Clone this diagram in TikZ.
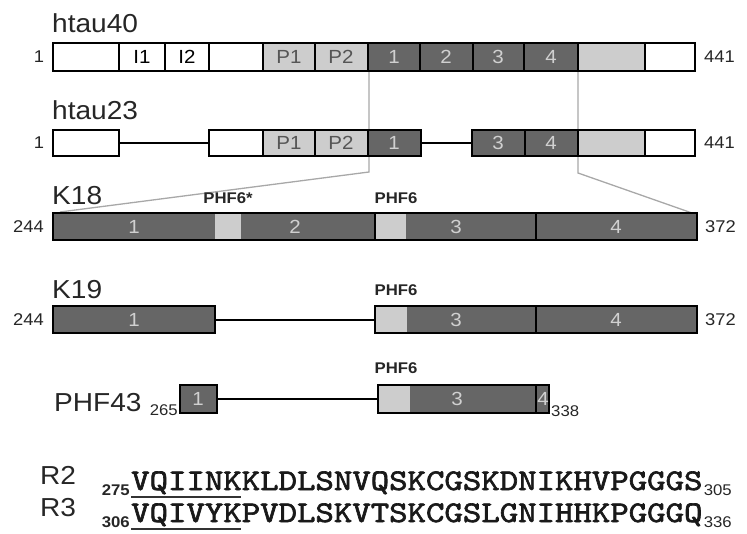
\documentclass[tikz,border=0pt]{standalone}
\usepackage{fontspec}
\setmainfont{Liberation Sans}[FakeStretch=1.08]
\newfontfamily\seqfont{lmmono10-regular.otf}[FakeStretch=1.17,FakeBold=2.2]
\definecolor{dkg}{HTML}{666666}
\definecolor{ltg}{HTML}{CDCDCD}
\definecolor{txt}{HTML}{262626}
\definecolor{dtx}{HTML}{D0D0D0}
\definecolor{ltx}{HTML}{555555}
\definecolor{gdl}{HTML}{A8A8A8}
\tikzset{
 bar/.style={draw=black, line width=1.8pt},
 link/.style={draw=black, line width=1.6pt},
 guide/.style={draw=gdl, line width=1.3pt},
 protname/.style={font=\fontsize{26}{26}\selectfont, text=txt, inner sep=0pt, anchor=base west},
 posnum/.style={font=\fontsize{17}{17}\selectfont, text=txt, inner sep=0pt},
 subnum/.style={font=\fontsize{15.5}{15.5}\selectfont, text=txt, inner sep=0pt},
 phf/.style={font=\bfseries\fontsize{15.5}{15.5}\selectfont, text=txt, inner sep=0pt},
 dlab/.style={font=\fontsize{19}{19}\selectfont, text=dtx, inner sep=0pt},
 llab/.style={font=\fontsize{19}{19}\selectfont, text=ltx, inner sep=0pt},
 wlab/.style={font=\fontsize{19}{19}\selectfont, text=black, inner sep=0pt},
 seqtext/.style={font=\seqfont\fontsize{30}{30}\selectfont, text=black!90, inner sep=0pt, anchor=base west},
 uline/.style={line width=2.5pt, draw=black!80}
}
\begin{document}
\begin{tikzpicture}[x=1pt,y=-1pt]
\useasboundingbox (0,0) rectangle (747,534);
% ---------- guide lines (behind) ----------
\coordinate (ga) at (369,71);
\coordinate (gb) at (369,172);
\coordinate (gc) at (60,212);
\coordinate (gd) at (578,71);
\coordinate (ge) at (578,173);
\coordinate (gf) at (692,213);
\draw[guide] (ga) -- (gb) -- (gc);
\draw[guide] (gd) -- (ge) -- (gf);
% ---------- htau40 ----------
\node[protname] (n40) at (52,33) {htau40};
\fill[white] (53,43) rectangle (263,71);
\fill[ltg] (263,43) rectangle (368,71);
\fill[dkg] (368,43) rectangle (578,71);
\fill[ltg] (578,43) rectangle (645,71);
\fill[white] (645,43) rectangle (695,71);
\foreach \xx in {119,165,209,263,315,368,420,473,524,578,645}
  \draw[bar] (\xx,43) -- (\xx,71);
\draw[bar] (53,43) rectangle (695,71);
\node[posnum] (s40) at (39,57) {1};
\node[posnum, anchor=west] (e40) at (704,57) {441};
\node[wlab] (i1) at (142,57) {I1};
\node[wlab] (i2) at (187,57) {I2};
\node[llab] (p1a) at (289,57) {P1};
\node[llab] (p2a) at (341,57) {P2};
\node[dlab] (r1a) at (394,57) {1};
\node[dlab] (r2a) at (446,57) {2};
\node[dlab] (r3a) at (498,57) {3};
\node[dlab] (r4a) at (551,57) {4};
% ---------- htau23 ----------
\node[protname] (n23) at (52,120) {htau23};
\fill[white] (53,130) rectangle (119,156);
\draw[bar] (53,130) rectangle (119,156);
\fill[white] (209,130) rectangle (263,156);
\fill[ltg] (263,130) rectangle (368,156);
\fill[dkg] (368,130) rectangle (421,156);
\foreach \xx in {263,315,368}
  \draw[bar] (\xx,130) -- (\xx,156);
\draw[bar] (209,130) rectangle (421,156);
\fill[dkg] (472,130) rectangle (578,156);
\fill[ltg] (578,130) rectangle (645,156);
\fill[white] (645,130) rectangle (695,156);
\foreach \xx in {525,578,645}
  \draw[bar] (\xx,130) -- (\xx,156);
\draw[bar] (472,130) rectangle (695,156);
\coordinate (l23a) at (119,143);
\coordinate (l23b) at (209,143);
\coordinate (l23c) at (421,143);
\coordinate (l23d) at (472,143);
\draw[link] (l23a) -- (l23b);
\draw[link] (l23c) -- (l23d);
\node[posnum] (s23) at (39,143) {1};
\node[posnum, anchor=west] (e23) at (704,143) {441};
\node[llab] (p1b) at (289,143) {P1};
\node[llab] (p2b) at (341,143) {P2};
\node[dlab] (r1b) at (394,143) {1};
\node[dlab] (r3b) at (498,143) {3};
\node[dlab] (r4b) at (551,143) {4};
% ---------- K18 ----------
\node[protname] (nk18) at (52,205) {K18};
\node[phf] (phfs) at (228,198) {PHF6*};
\node[phf] (phf18) at (396,198) {PHF6};
\fill[dkg] (53,213) rectangle (697,240);
\fill[ltg] (215,213) rectangle (241,240);
\fill[ltg] (375,213) rectangle (406,240);
\foreach \xx in {375,536}
  \draw[bar] (\xx,213) -- (\xx,240);
\draw[bar] (53,213) rectangle (697,240);
\node[posnum, anchor=east] (s18) at (44,227) {244};
\node[posnum, anchor=west] (e18) at (705,227) {372};
\node[dlab] (k18r1) at (134,227) {1};
\node[dlab] (k18r2) at (295,227) {2};
\node[dlab] (k18r3) at (456,227) {3};
\node[dlab] (k18r4) at (616,227) {4};
% ---------- K19 ----------
\node[protname] (nk19) at (52,299) {K19};
\node[phf] (phf19) at (396,290) {PHF6};
\fill[dkg] (53,306) rectangle (215,333);
\draw[bar] (53,306) rectangle (215,333);
\fill[dkg] (375,306) rectangle (697,333);
\fill[ltg] (375,306) rectangle (407,333);
\draw[bar] (536,306) -- (536,333);
\draw[bar] (375,306) rectangle (697,333);
\coordinate (l19a) at (215,320);
\coordinate (l19b) at (375,320);
\draw[link] (l19a) -- (l19b);
\node[posnum, anchor=east] (s19) at (44,320) {244};
\node[posnum, anchor=west] (e19) at (705,320) {372};
\node[dlab] (k19r1) at (134,320) {1};
\node[dlab] (k19r3) at (456,320) {3};
\node[dlab] (k19r4) at (616,320) {4};
% ---------- PHF43 ----------
\node[protname] (n43) at (54,412) {PHF43};
\node[phf] (phf43) at (396,368) {PHF6};
\fill[dkg] (180,385) rectangle (217,413);
\draw[bar] (180,385) rectangle (217,413);
\fill[dkg] (378,385) rectangle (549,413);
\fill[ltg] (378,385) rectangle (410,413);
\draw[bar] (536,385) -- (536,413);
\draw[bar] (378,385) rectangle (549,413);
\coordinate (l43a) at (217,399);
\coordinate (l43b) at (378,399);
\draw[link] (l43a) -- (l43b);
\node[subnum, anchor=base east] (s43) at (178,416) {265};
\node[subnum, anchor=base west] (e43) at (551,417) {338};
\node[dlab] (p43r1) at (198,399) {1};
\node[dlab] (p43r3) at (457,399) {3};
\node[dlab] (p43r4) at (543,399) {4};
% ---------- sequences ----------
\node[protname] (nr2) at (40,484) {R2};
\node[subnum, font=\bfseries\fontsize{15.5}{15.5}\selectfont, anchor=base east] (b2) at (130,495) {275};
\node[seqtext] (q2) at (131,490) {VQIINKKLDLSNVQSKCGSKDNIKHVPGGGS};
\node[subnum, anchor=base west] (f2) at ([xshift=1pt,yshift=-5pt]q2.base east) {305};
\draw[uline] ([yshift=-7pt]q2.base west) -- ++(110.4,0);
\node[protname] (nr3) at (40,516) {R3};
\node[subnum, font=\bfseries\fontsize{15.5}{15.5}\selectfont, anchor=base east] (b3) at (130,527) {306};
\node[seqtext] (q3) at (131,522) {VQIVYKPVDLSKVTSKCGSLGNIHHKPGGGQ};
\node[subnum, anchor=base west] (f3) at ([xshift=1pt,yshift=-5pt]q3.base east) {336};
\draw[uline] ([yshift=-7pt]q3.base west) -- ++(110.4,0);
\end{tikzpicture}
\end{document}
